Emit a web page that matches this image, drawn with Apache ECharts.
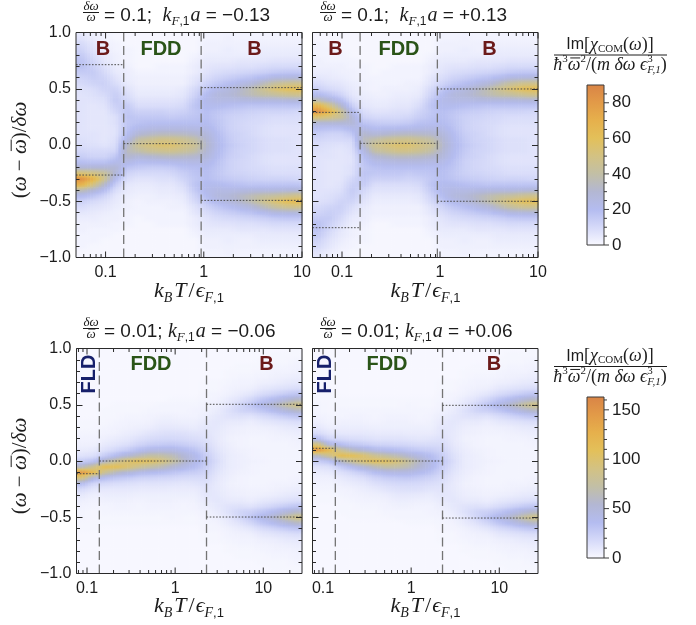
<!DOCTYPE html>
<html>
<head>
<meta charset="utf-8">
<script src="https://cdn.jsdelivr.net/npm/echarts@6.0.0/dist/echarts.min.js"></script>
<style>
html,body{margin:0;padding:0;background:#ffffff;}
#chart{width:696px;height:625px;}
</style>
</head>
<body>
<div id="chart"></div>
<script>
// ---------------- DATA ----------------
// row centres of the heat-map cells, (omega - omegabar)/delta omega, top to bottom
const yCenters = [1,0.95,0.9,0.85,0.8,0.75,0.7,0.65,0.6,0.55,0.5,0.45,0.4,0.35,0.3,0.25,0.2,0.15,0.1,0.05,0,
  -0.05,-0.1,-0.15,-0.2,-0.25,-0.3,-0.35,-0.4,-0.45,-0.5,-0.55,-0.6,-0.65,-0.7,-0.75,-0.8,-0.85,-0.9,-0.95,-1];
// column edges in k_B T / eps_F,1
const topXEdges = [0.05,0.0652,0.0849,0.1107,0.1443,0.188,0.245,0.319,0.416,0.542,0.707,0.922,1.202,1.566,2.04,2.66,3.47,4.52,5.89,7.67,10];
const botXEdges = [0.076,0.102,0.137,0.184,0.247,0.331,0.445,0.597,0.802,1.077,1.445,1.94,2.61,3.5,4.7,6.31,8.45,11.35,15.24,20.5,27.5];

// Im[chi] values, one array per column (top row first). Top left: dw/w=0.1, k a=-0.13
const tlCols = [
[5,7,10,12,15,17,18,15,12,10,8,7,7,7,7,7,7,7,7,8,9,11,14,19,29,54,84,68,37,21,13,9,6,4,3,3,2,2,2,1,1],
[3,4,6,7,9,11,13,15,14,12,9,8,7,6,6,6,6,6,7,7,8,10,12,18,29,50,68,50,29,17,10,7,5,4,3,2,2,2,1,1,1],
[2,2,3,4,5,6,8,10,12,13,12,10,8,7,6,6,6,6,6,6,7,10,12,18,29,44,46,32,20,12,8,6,4,3,3,2,2,1,1,1,1],
[1,1,2,2,3,3,4,5,7,9,12,14,15,13,11,8,8,7,7,8,9,11,16,22,29,28,21,14,9,6,5,4,3,3,2,2,1,1,1,1,1],
[1,1,1,2,2,2,3,4,4,5,7,9,11,15,16,17,16,17,19,24,31,34,31,24,17,12,9,6,5,4,3,3,2,2,2,1,1,1,1,1,1],
[1,1,1,1,1,1,1,2,3,3,4,5,7,9,13,16,18,22,29,40,46,39,28,20,15,10,7,5,4,3,2,2,2,1,1,1,1,1,1,1,1],
[1,1,1,1,1,1,1,2,3,3,4,5,7,9,13,16,19,24,32,44,51,44,30,21,14,10,7,5,4,3,3,2,2,2,1,1,1,1,1,1,1],
[1,1,1,1,1,1,2,2,3,3,4,5,7,9,13,16,19,25,34,48,55,46,32,21,14,10,8,6,5,4,3,2,2,2,2,1,1,1,1,1,1],
[1,1,1,1,1,1,2,2,3,3,4,5,7,9,12,15,19,25,34,48,55,47,33,22,15,11,8,6,5,4,3,3,2,2,2,1,1,1,1,1,1],
[1,1,1,1,1,1,2,2,3,3,5,6,8,10,13,16,19,25,33,45,50,44,32,23,18,14,12,9,7,5,4,3,2,2,2,1,1,1,1,1,1],
[1,1,1,1,2,3,4,4,6,7,10,12,15,17,16,17,19,24,31,40,45,40,31,24,19,17,16,17,15,12,10,7,6,4,4,3,2,1,1,1,1],
[2,2,3,3,4,5,6,7,9,12,16,20,22,21,19,19,20,23,27,30,32,30,27,23,20,19,19,21,22,20,16,12,9,7,6,5,4,3,3,2,2],
[2,2,3,3,4,5,7,9,12,16,22,26,24,21,17,16,17,18,20,21,22,21,20,18,17,16,17,21,24,26,22,16,12,9,7,5,4,3,3,2,2],
[2,3,3,4,4,5,7,10,14,19,26,28,24,19,15,13,13,13,14,15,16,15,14,13,13,13,15,19,24,28,26,19,14,10,7,5,4,4,3,3,2],
[2,2,3,3,4,6,8,11,16,23,31,32,25,18,14,12,11,11,12,12,13,12,12,11,11,12,14,18,25,32,31,23,16,11,8,6,4,3,3,2,2],
[2,2,3,3,4,6,8,12,18,27,37,36,26,17,13,11,10,10,10,11,11,11,10,10,10,11,13,17,26,36,37,27,18,12,8,6,4,3,3,2,2],
[2,2,3,4,5,6,9,13,21,34,45,40,26,17,12,10,9,8,8,9,9,9,8,8,9,10,12,17,26,40,45,34,21,13,9,6,5,4,3,2,2],
[2,2,3,4,5,7,10,15,25,41,53,42,26,17,12,9,8,7,7,8,8,8,7,7,8,9,12,17,26,42,53,41,25,15,10,7,5,4,3,2,2],
[2,2,3,4,5,7,10,16,26,45,59,45,27,17,12,9,8,7,7,8,8,8,7,7,8,9,12,17,27,45,60,46,26,16,10,7,5,4,3,2,2],
[2,2,3,4,5,7,10,16,27,46,61,47,28,17,11,9,8,7,7,7,7,7,7,7,8,9,11,17,28,48,63,47,27,16,10,7,5,4,3,2,2]
];
// Top right: dw/w=0.1, k a=+0.13
const trCols = [
[1,1,2,2,2,3,3,4,6,9,13,21,37,68,84,54,29,19,14,11,9,8,7,7,7,7,7,7,7,7,8,10,12,15,18,17,15,12,10,7,5],
[1,1,1,2,2,2,3,4,5,7,10,17,29,50,68,50,29,18,12,10,8,7,7,6,6,6,6,6,7,8,9,12,14,15,13,11,9,7,6,4,3],
[1,1,1,1,2,2,3,3,4,6,8,12,20,32,46,44,29,18,12,10,7,6,6,6,6,6,6,7,8,10,12,13,12,10,8,6,5,4,3,2,2],
[1,1,1,1,1,2,2,3,3,4,5,6,9,14,21,28,29,22,16,11,9,8,7,7,8,8,11,13,15,14,12,9,7,5,4,3,3,2,2,1,1],
[1,1,1,1,1,1,2,2,2,3,3,4,5,6,9,12,17,24,31,34,31,24,19,17,16,17,16,15,11,9,7,5,4,4,3,2,2,2,1,1,1],
[1,1,1,1,1,1,1,1,2,2,2,3,4,5,7,10,15,20,28,39,46,40,29,22,18,16,13,9,7,5,4,3,3,2,1,1,1,1,1,1,1],
[1,1,1,1,1,1,1,2,2,2,3,3,4,5,7,10,14,21,30,44,51,44,32,24,19,16,13,9,7,5,4,3,3,2,1,1,1,1,1,1,1],
[1,1,1,1,1,1,2,2,2,2,3,4,5,6,8,10,14,21,32,46,55,48,34,25,19,16,13,9,7,5,4,3,3,2,2,1,1,1,1,1,1],
[1,1,1,1,1,1,2,2,2,3,3,4,5,6,8,11,15,22,33,47,55,48,34,25,19,15,12,9,7,5,4,3,3,2,2,1,1,1,1,1,1],
[1,1,1,1,1,1,2,2,2,3,4,5,7,9,12,14,18,23,32,44,50,45,33,25,19,16,13,10,8,6,5,3,3,2,2,1,1,1,1,1,1],
[1,1,1,1,2,3,4,4,6,7,10,12,15,17,16,17,19,24,31,40,45,40,31,24,19,17,16,17,15,12,10,7,6,4,4,3,2,1,1,1,1],
[2,2,3,3,4,5,6,7,9,12,16,20,22,21,19,19,20,23,27,30,32,30,27,23,20,19,19,21,22,20,16,12,9,7,6,5,4,3,3,2,2],
[2,2,3,3,4,5,7,9,12,16,22,26,24,21,17,16,17,18,20,21,22,21,20,18,17,16,17,21,24,26,22,16,12,9,7,5,4,3,3,2,2],
[2,3,3,4,4,5,7,10,14,19,26,28,24,19,15,13,13,13,14,15,16,15,14,13,13,13,15,19,24,28,26,19,14,10,7,5,4,4,3,3,2],
[2,2,3,3,4,6,8,11,16,23,31,32,25,18,14,12,11,11,12,12,13,12,12,11,11,12,14,18,25,32,31,23,16,11,8,6,4,3,3,2,2],
[2,2,3,3,4,6,8,12,18,27,37,36,26,17,13,11,10,10,10,11,11,11,10,10,10,11,13,17,26,36,37,27,18,12,8,6,4,3,3,2,2],
[2,2,3,4,5,6,9,13,21,34,45,40,26,17,12,10,9,8,8,9,9,9,8,8,9,10,12,17,26,40,45,34,21,13,9,6,5,4,3,2,2],
[2,2,3,4,5,7,10,15,25,41,53,42,26,17,12,9,8,7,7,8,8,8,7,7,8,9,12,17,26,42,53,41,25,15,10,7,5,4,3,2,2],
[2,2,3,4,5,7,10,16,26,46,60,45,27,17,12,9,8,7,7,8,8,8,7,7,8,9,12,17,27,45,59,45,26,16,10,7,5,4,3,2,2],
[2,2,3,4,5,7,10,16,27,47,63,48,28,17,11,9,8,7,7,7,7,7,7,7,8,9,11,17,28,47,61,46,27,16,10,7,5,4,3,2,2]
];
// Bottom left: dw/w=0.01, k a=-0.06
const blCols = [
[1,1,1,1,1,1,1,1,1,1,1,1,1,2,2,3,4,5,8,13,26,61,144,91,35,17,10,6,4,3,3,2,2,1,1,1,1,1,1,1,1],
[1,1,1,1,1,1,1,1,1,1,1,1,1,2,2,3,4,5,9,15,32,84,115,46,20,11,6,4,3,2,2,2,2,1,1,1,1,1,1,1,1],
[1,1,1,1,1,1,1,1,1,1,1,2,2,2,3,4,6,9,14,26,58,112,80,35,18,10,7,5,3,3,2,2,1,1,1,1,1,1,1,1,1],
[1,1,1,1,1,1,1,1,1,1,2,2,2,3,4,5,8,12,20,38,81,109,61,29,16,10,7,5,4,3,2,2,1,1,1,1,1,1,1,1,1],
[1,1,1,1,1,1,1,1,1,1,2,2,3,4,5,7,10,15,26,51,98,98,51,26,15,10,7,5,4,3,2,2,1,1,1,1,1,1,1,1,1],
[1,1,1,1,1,1,1,1,1,1,2,2,3,4,6,9,14,21,35,63,108,83,42,22,13,9,6,4,3,3,2,2,1,1,1,1,1,1,1,1,1],
[1,1,1,1,1,1,1,1,1,1,2,3,4,5,7,12,17,25,42,73,105,73,38,21,13,9,6,5,4,3,2,2,1,1,1,1,1,1,1,1,1],
[1,1,1,1,1,1,1,1,1,1,3,3,5,7,10,14,19,27,44,72,95,65,35,20,13,9,6,5,4,3,2,2,1,1,1,1,1,1,1,1,1],
[1,1,1,1,1,1,1,1,1,2,3,3,5,7,10,15,19,28,44,65,77,54,31,19,12,8,6,5,4,3,3,2,1,1,1,1,1,1,1,1,1],
[1,1,1,1,1,1,1,1,1,2,3,3,4,6,9,14,18,25,38,52,59,44,27,17,11,8,6,4,3,3,2,2,1,1,1,1,1,1,1,1,1],
[1,1,1,1,1,1,1,1,1,2,3,4,4,6,8,12,16,22,31,40,42,35,25,17,12,8,6,5,4,3,2,2,1,1,1,1,1,1,1,1,1],
[1,1,1,1,1,1,2,2,3,3,4,5,7,9,11,12,14,17,21,25,28,25,21,17,14,12,11,9,7,5,4,3,3,2,2,1,1,1,1,1,1],
[1,1,1,1,1,1,2,2,3,4,6,8,10,11,10,9,9,10,12,14,16,14,12,10,9,9,10,11,10,8,6,4,3,2,2,1,1,1,1,1,1],
[1,1,1,1,2,2,3,4,5,8,11,14,13,9,7,6,5,6,7,8,8,8,7,6,5,6,7,9,13,14,11,8,5,4,3,2,2,1,1,1,1],
[1,1,1,2,2,3,4,5,8,13,20,21,14,9,6,5,4,4,5,6,6,6,5,4,4,5,6,9,14,21,20,13,8,5,4,3,2,2,1,1,1],
[1,1,1,2,2,3,4,6,11,20,30,24,13,7,5,4,3,3,4,4,5,4,4,3,3,4,5,7,13,24,30,20,11,6,4,3,2,2,1,1,1],
[1,1,2,2,3,4,6,10,17,30,42,30,17,10,6,4,3,3,3,3,4,3,3,3,3,4,6,10,17,30,42,30,17,10,6,4,3,2,2,1,1],
[1,2,2,3,4,5,7,12,21,38,55,38,21,12,7,5,4,3,3,3,3,3,3,3,4,5,7,12,21,38,55,38,21,12,7,5,4,3,2,2,1],
[1,2,2,3,4,6,9,14,26,48,72,48,26,14,9,6,4,3,3,3,3,3,3,3,4,6,9,14,26,48,72,48,26,14,9,6,4,3,2,2,1],
[2,2,3,4,5,7,10,16,30,58,88,58,30,16,10,7,5,4,3,3,3,3,3,4,5,7,10,16,30,58,88,58,30,16,10,7,5,4,3,2,2]
];
// Bottom right: dw/w=0.01, k a=+0.06
const brCols = [
[1,1,1,1,1,1,1,1,2,2,3,3,4,6,10,17,35,91,144,61,26,13,8,5,4,3,2,2,1,1,1,1,1,1,1,1,1,1,1,1,1],
[1,1,1,1,1,1,1,1,2,2,2,2,3,4,6,11,20,46,115,84,32,15,9,5,4,3,2,2,1,1,1,1,1,1,1,1,1,1,1,1,1],
[1,1,1,1,1,1,1,1,1,2,2,3,3,5,7,10,18,35,80,112,58,26,14,9,6,4,3,2,2,2,1,1,1,1,1,1,1,1,1,1,1],
[1,1,1,1,1,1,1,1,1,2,2,3,4,5,7,10,16,29,61,109,81,38,20,12,8,5,4,3,2,2,2,1,1,1,1,1,1,1,1,1,1],
[1,1,1,1,1,1,1,1,1,2,2,3,4,5,7,10,15,26,51,98,98,51,26,15,10,7,5,4,3,2,2,1,1,1,1,1,1,1,1,1,1],
[1,1,1,1,1,1,1,1,1,2,2,3,3,4,6,9,13,22,42,83,108,63,35,21,14,9,6,4,3,2,2,1,1,1,1,1,1,1,1,1,1],
[1,1,1,1,1,1,1,1,1,2,2,3,4,5,6,9,13,21,38,73,105,73,42,25,17,12,7,5,4,3,2,1,1,1,1,1,1,1,1,1,1],
[1,1,1,1,1,1,1,1,1,2,2,3,4,5,6,9,13,20,35,65,95,72,44,27,19,14,10,7,5,3,3,1,1,1,1,1,1,1,1,1,1],
[1,1,1,1,1,1,1,1,1,2,3,3,4,5,6,8,12,19,31,54,77,65,44,28,19,15,10,7,5,3,3,2,1,1,1,1,1,1,1,1,1],
[1,1,1,1,1,1,1,1,1,2,2,3,3,4,6,8,11,17,27,44,59,52,38,25,18,14,9,6,4,3,3,2,1,1,1,1,1,1,1,1,1],
[1,1,1,1,1,1,1,1,1,2,2,3,4,5,6,8,12,17,25,35,42,40,31,22,16,12,8,6,4,4,3,2,1,1,1,1,1,1,1,1,1],
[1,1,1,1,1,1,2,2,3,3,4,5,7,9,11,12,14,17,21,25,28,25,21,17,14,12,11,9,7,5,4,3,3,2,2,1,1,1,1,1,1],
[1,1,1,1,1,1,2,2,3,4,6,8,10,11,10,9,9,10,12,14,16,14,12,10,9,9,10,11,10,8,6,4,3,2,2,1,1,1,1,1,1],
[1,1,1,1,2,2,3,4,5,8,11,14,13,9,7,6,5,6,7,8,8,8,7,6,5,6,7,9,13,14,11,8,5,4,3,2,2,1,1,1,1],
[1,1,1,2,2,3,4,5,8,13,20,21,14,9,6,5,4,4,5,6,6,6,5,4,4,5,6,9,14,21,20,13,8,5,4,3,2,2,1,1,1],
[1,1,1,2,2,3,4,6,11,20,30,24,13,7,5,4,3,3,4,4,5,4,4,3,3,4,5,7,13,24,30,20,11,6,4,3,2,2,1,1,1],
[1,1,2,2,3,4,6,10,17,30,42,30,17,10,6,4,3,3,3,3,4,3,3,3,3,4,6,10,17,30,42,30,17,10,6,4,3,2,2,1,1],
[1,2,2,3,4,5,7,12,21,38,55,38,21,12,7,5,4,3,3,3,3,3,3,3,4,5,7,12,21,38,55,38,21,12,7,5,4,3,2,2,1],
[1,2,2,3,4,6,9,14,26,48,72,48,26,14,9,6,4,3,3,3,3,3,3,3,4,6,9,14,26,48,72,48,26,14,9,6,4,3,2,2,1],
[2,2,3,4,5,7,10,16,30,58,88,58,30,16,10,7,5,4,3,3,3,3,3,4,5,7,10,16,30,58,88,58,30,16,10,7,5,4,3,2,2]
];

// tick positions
const xMajorTicks = [0.1, 1, 10];
const topMinorTicks = [0.06,0.07,0.08,0.09,0.2,0.3,0.4,0.5,0.6,0.7,0.8,0.9,2,3,4,5,6,7,8,9];
const botMinorTicks = [0.08,0.09,0.2,0.3,0.4,0.5,0.6,0.7,0.8,0.9,2,3,4,5,6,7,8,9,20];
const cbTopMajor = [0,20,40,60,80];
const cbTopMinor = [5,10,15,25,30,35,45,50,55,65,70,75,85];
const cbBotMajor = [0,50,100,150];
const cbBotMinor = [10,20,30,40,60,70,80,90,110,120,130,140,160];

// regime boundaries (dashed) and reference levels (dotted): [xFrom, xTo, y]
const topBounds = [0.153, 0.94];
const botBounds = [0.138, 2.27];
const tlSegs = [[0.05,0.153,0.714],[0.05,0.153,-0.267],[0.153,0.94,0.012],[0.94,10,0.51],[0.94,10,-0.492]];
const trSegs = [[0.05,0.153,0.29],[0.05,0.153,-0.735],[0.153,0.94,0.015],[0.94,10,0.498],[0.94,10,-0.5]];
const blSegs = [[0.076,0.138,-0.113],[0.138,2.27,0],[2.27,27.5,0.504],[2.27,27.5,-0.498]];
const brSegs = [[0.076,0.138,0.113],[0.138,2.27,0],[2.27,27.5,0.495],[2.27,27.5,-0.507]];

// colour scale (evenly spaced from 0 to max)
const cmap = ['#f9f9ff','#d6daf9','#b4bcf0','#b3b7d3','#c2bfa6','#d3c283','#e3c05a','#e6b04c','#e29a48','#d98446'];
const topMax = 90, botMax = 163;

// ---------------- BUILD ----------------
const SANS = '"Liberation Sans", Arial, sans-serif';
const SERIF = '"Liberation Serif", "DejaVu Serif", serif';
const INK = '#1c1c1c';

const cmapRGB = cmap.map(h => [parseInt(h.slice(1,3),16), parseInt(h.slice(3,5),16), parseInt(h.slice(5,7),16)]);
function colorOf(v, max) {
  const t = Math.max(0, Math.min(1, v / max)) * (cmap.length - 1);
  const k = Math.min(cmap.length - 2, Math.floor(t)), f = t - k;
  const c = cmapRGB[k].map((c0, m) => Math.round(c0 + (cmapRGB[k + 1][m] - c0) * f));
  return 'rgb(' + c[0] + ',' + c[1] + ',' + c[2] + ')';
}
// smooth shading inside a cell: bilinear blend between neighbouring cell values (display only)
function sampleGrid(cols, xi, yi) {
  const nx = cols.length, ny = cols[0].length;
  xi = Math.max(0, Math.min(nx - 1, xi)); yi = Math.max(0, Math.min(ny - 1, yi));
  const x0 = Math.floor(xi), y0 = Math.floor(yi);
  const x1 = Math.min(nx - 1, x0 + 1), y1 = Math.min(ny - 1, y0 + 1);
  const fx = xi - x0, fy = yi - y0;
  const a = cols[x0][y0] * (1 - fx) + cols[x1][y0] * fx;
  const b = cols[x0][y1] * (1 - fx) + cols[x1][y1] * fx;
  return a * (1 - fy) + b * fy;
}

const panels = [
  {grid:{left:76, top:32.5, width:226, height:225}, xmin:0.05, xmax:10, edges:topXEdges, cols:tlCols, max:topMax, bounds:topBounds, segs:tlSegs, minor:topMinorTicks, showMax:true, labels:true},
  {grid:{left:312.5, top:32.5, width:225.5, height:225}, xmin:0.05, xmax:10, edges:topXEdges, cols:trCols, max:topMax, bounds:topBounds, segs:trSegs, minor:topMinorTicks, showMax:true, labels:false},
  {grid:{left:76.5, top:348.5, width:225.5, height:225}, xmin:0.076, xmax:27.5, edges:botXEdges, cols:blCols, max:botMax, bounds:botBounds, segs:blSegs, minor:botMinorTicks, showMax:false, labels:true},
  {grid:{left:312.5, top:348.5, width:225.5, height:225}, xmin:0.076, xmax:27.5, edges:botXEdges, cols:brCols, max:botMax, bounds:botBounds, segs:brSegs, minor:botMinorTicks, showMax:false, labels:false}
];

function heatData(cols, edges) {
  const d = [];
  cols.forEach((col, i) => col.forEach((v, j) => d.push([edges[i], edges[i + 1], yCenters[j], v, i, j])));
  return d;
}
function makeHeatItem(p) {
  const NS = 4;
  return function (params, api) {
    const x0 = api.value(0), x1 = api.value(1), y = api.value(2), i = api.value(4);
    const vt = Math.min(1, y + 0.025), vb = Math.max(-1, y - 0.025);
    const a = api.coord([x0, vt]), b = api.coord([x1, vb]);
    const W = b[0] - a[0], H = b[1] - a[1];
    const ys = [(1 - vt) / 0.05, (1 - (vt + vb) / 2) / 0.05, (1 - vb) / 0.05];
    const kids = [];
    for (let s = 0; s < NS; s++) {
      const xi = i + (s + 0.5) / NS - 0.5;
      const stops = ys.map((yy, k) => ({offset:k / 2, color:colorOf(sampleGrid(p.cols, xi, yy), p.max)}));
      kids.push({type:'rect', shape:{x:a[0] + W * s / NS, y:a[1], width:W / NS + 0.6, height:H + 0.6},
        style:{fill:{type:'linear', x:0, y:0, x2:0, y2:1, colorStops:stops}}});
    }
    return {type:'group', children:kids};
  };
}
function lineItem(params, api) {
  const a = api.coord([api.value(0), api.value(2)]);
  const b = api.coord([api.value(1), api.value(3)]);
  const dashed = api.value(4) === 0;
  return {type:'line', shape:{x1:a[0], y1:a[1], x2:b[0], y2:b[1]},
    style: dashed ? {stroke:'#747474', lineWidth:1.3, lineDash:[9,4.5]} : {stroke:'#4d4d4d', lineWidth:1, lineDash:[1.6,1.6]}};
}
function tickItem(params, api) {
  const kind = api.value(2);
  const cs = params.coordSys;
  if (kind === 2) {
    return {type:'rect', shape:{x:cs.x, y:cs.y, width:cs.width, height:cs.height}, style:{fill:'none', stroke:'#2a2a2a', lineWidth:1}};
  }
  const x = api.coord([api.value(0), 0])[0];
  const L = kind === 1 ? 6 : 3.5;
  return {type:'group', children:[
    {type:'line', shape:{x1:x, y1:cs.y + cs.height, x2:x, y2:cs.y + cs.height - L}, style:{stroke:'#2a2a2a', lineWidth:1}},
    {type:'line', shape:{x1:x, y1:cs.y, x2:x, y2:cs.y + L}, style:{stroke:'#2a2a2a', lineWidth:1}}
  ]};
}
function cbItem(params, api) {
  const kind = api.value(2);
  const cs = params.coordSys;
  if (kind === -1) {
    const stops = cmap.map((c, i) => ({offset:1 - i / (cmap.length - 1), color:c})).reverse();
    return {type:'rect', shape:{x:cs.x, y:cs.y, width:cs.width, height:cs.height},
      style:{fill:{type:'linear', x:0, y:0, x2:0, y2:1, colorStops:stops}, stroke:'#3a3a3a', lineWidth:1}};
  }
  const p = api.coord([1, api.value(1)]);
  const L = kind === 1 ? 5 : 3;
  return {type:'line', shape:{x1:p[0], y1:p[1], x2:p[0] + L, y2:p[1]}, style:{stroke:'#3a3a3a', lineWidth:1}};
}

const grids = panels.map(p => Object.assign({outerBoundsMode:'none', containLabel:false}, p.grid))
  .concat([{left:587, top:85, width:17, height:160, outerBoundsMode:'none'},
           {left:587, top:397, width:17, height:161, outerBoundsMode:'none'}]);

const xAxes = panels.map((p, i) => ({
  gridIndex:i, type:'log', logBase:10, min:p.xmin, max:p.xmax,
  axisLine:{show:false}, axisTick:{show:false}, minorTick:{show:false}, splitLine:{show:false}, minorSplitLine:{show:false},
  axisLabel:{show:true, fontFamily:SANS, fontSize:16, color:INK, margin:7, showMinLabel:false, showMaxLabel:p.showMax,
    formatter: v => String(+Number(v).toPrecision(4))}
})).concat([
  {gridIndex:4, type:'value', min:0, max:1, show:false},
  {gridIndex:5, type:'value', min:0, max:1, show:false}
]);

function yAx(i, pos, labels) {
  return {gridIndex:i, type:'value', min:-1, max:1, interval:0.5, position:pos, z:10,
    axisLine:{show:false}, splitLine:{show:false}, minorSplitLine:{show:false},
    axisTick:{show:true, inside:true, length:6, lineStyle:{color:'#2a2a2a', width:1}},
    minorTick:{show:true, splitNumber:5, length:3.5, lineStyle:{color:'#2a2a2a', width:1}},
    axisLabel:{show:labels, fontFamily:SANS, fontSize:16, color:INK, margin:5,
      formatter: v => (v < 0 ? '\u2212' : '') + Math.abs(v).toFixed(1)}};
}
function cbAx(i, max, interval) {
  return {gridIndex:i, type:'value', min:0, max:max, interval:interval, position:'right',
    axisLine:{show:false}, axisTick:{show:false}, splitLine:{show:false},
    axisLabel:{fontFamily:SANS, fontSize:17, color:INK, margin:8, showMaxLabel:false}};
}
const yAxes = [];
panels.forEach((p, i) => { yAxes.push(yAx(i, 'left', p.labels)); yAxes.push(yAx(i, 'right', false)); });
yAxes.push(cbAx(4, topMax, 20));
yAxes.push(cbAx(5, botMax, 50));

const series = [];
panels.forEach((p, i) => {
  series.push({type:'custom', xAxisIndex:i, yAxisIndex:2 * i, z:2, silent:true, animation:false,
    dimensions:['x0','x1','y','v','i','j'], encode:{x:[0,1], y:2}, data:heatData(p.cols, p.edges), renderItem:makeHeatItem(p)});
  const ld = p.bounds.map(b => [b, b, -1, 1, 0]).concat(p.segs.map(s => [s[0], s[1], s[2], s[2], 1]));
  series.push({type:'custom', xAxisIndex:i, yAxisIndex:2 * i, z:3, silent:true, animation:false,
    encode:{x:[0,1], y:[2,3]}, data:ld, renderItem:lineItem});
  const td = xMajorTicks.map(v => [v, 0, 1]).concat(p.minor.map(v => [v, 0, 0])).concat([[p.xmin, 0, 2]]);
  series.push({type:'custom', xAxisIndex:i, yAxisIndex:2 * i, z:4, silent:true, animation:false,
    encode:{x:0, y:1}, data:td, renderItem:tickItem});
});
series.push({type:'custom', xAxisIndex:4, yAxisIndex:8, z:4, silent:true, animation:false, encode:{x:0, y:1},
  data:[[0,0,-1]].concat(cbTopMajor.map(v => [1, v, 1])).concat(cbTopMinor.map(v => [1, v, 0])), renderItem:cbItem});
series.push({type:'custom', xAxisIndex:5, yAxisIndex:9, z:4, silent:true, animation:false, encode:{x:0, y:1},
  data:[[0,0,-1]].concat(cbBotMajor.map(v => [1, v, 1])).concat(cbBotMinor.map(v => [1, v, 0])), renderItem:cbItem});

// ---------------- TEXT (math-style labels) ----------------
const mctx = document.createElement('canvas').getContext('2d');
function fontStr(f) { return (f.style || 'normal') + ' ' + (f.weight || 'normal') + ' ' + f.size + 'px ' + f.family; }
const K = {
  n:{size:19, family:SANS},
  i:{style:'italic', size:20, family:SERIF},
  p:{size:20, family:SERIF},
  s:{style:'italic', size:13, family:SERIF, dy:6},
  t:{size:12, family:SANS, dy:6},
  yi:{style:'italic', size:21, family:SERIF},
  yp:{size:21, family:SERIF},
  xi:{style:'italic', size:22, family:SERIF},
  xp:{size:22, family:SERIF},
  xs:{style:'italic', size:14, family:SERIF, dy:7},
  xt:{size:13, family:SANS, dy:7},
  fi:{style:'italic', size:13, family:SERIF},
  ca:{size:16, family:SANS},
  ci:{style:'italic', size:18, family:SERIF},
  cp:{size:18, family:SERIF},
  cc:{size:11, family:SERIF, dy:4},
  cu:{size:11, family:SERIF, dy:-6},
  cd:{style:'italic', size:11, family:SERIF, dy:5}
};
// pieces: [text, kind, overbar, stay(no advance), extraGap]
function mathGroup(pieces, opt) {
  let x = 0; const kids = [];
  pieces.forEach(pc => {
    const f = K[pc[1]]; const font = fontStr(f); const dy = f.dy || 0;
    mctx.font = font; const w = mctx.measureText(pc[0]).width;
    kids.push({type:'text', x:x, y:dy, z:100, silent:true, style:{text:pc[0], font:font, fill:INK, align:'left', verticalAlign:'middle'}});
    if (pc[2]) {
      const yb = dy - f.size * 0.42;
      kids.push({type:'line', z:100, silent:true, shape:{x1:x + w * 0.2, y1:yb, x2:x + w * 0.98, y2:yb}, style:{stroke:INK, lineWidth:1}});
    }
    if (!pc[3]) x += w + (pc[4] || 0);
  });
  const off = opt.align === 'left' ? 0 : -x / 2;
  kids.forEach(k => { if (k.type === 'text') k.x += off; else { k.shape.x1 += off; k.shape.x2 += off; } });
  return {type:'group', x:opt.x, y:opt.y, rotation:opt.rotation || 0, z:100, silent:true, children:kids};
}

const graphics = [];
function addText(x, y, text, style, extra) {
  graphics.push(Object.assign({type:'text', x:x, y:y, silent:true, z:100,
    style:Object.assign({text:text, fill:INK, align:'center', verticalAlign:'middle'}, style)}, extra || {}));
}
function addLine(x1, y1, x2, y2) {
  graphics.push({type:'line', silent:true, z:100, shape:{x1:x1, y1:y1, x2:x2, y2:y2}, style:{stroke:INK, lineWidth:1}});
}

// panel titles
const titles = [
  {fx:91, ny:7, ly:12.5, dy:18, tx:104, ty:15.5, v:'0.1;  ', ka:'\u22120.13'},
  {fx:328, ny:7, ly:12.5, dy:18, tx:341, ty:15.5, v:'0.1;  ', ka:'+0.13'},
  {fx:91, ny:323, ly:328.5, dy:334.5, tx:104, ty:331.5, v:'0.01; ', ka:'\u22120.06'},
  {fx:328, ny:323, ly:328.5, dy:334.5, tx:341, ty:331.5, v:'0.01; ', ka:'+0.06'}
];
titles.forEach(t => {
  graphics.push(mathGroup([['\u03b4\u03c9', 'fi']], {x:t.fx, y:t.ny}));
  addLine(t.fx - 8, t.ly, t.fx + 8, t.ly);
  graphics.push(mathGroup([['\u03c9', 'fi', true]], {x:t.fx, y:t.dy}));
  graphics.push(mathGroup([['= ' + t.v, 'n'], ['k', 'i'], ['F', 's'], [',1', 't', false, false, 1], ['a', 'i'], [' = ' + t.ka, 'n']],
    {x:t.tx, y:t.ty, align:'left'}));
});
// axis names
const yNamePieces = [['(', 'yp'], ['\u03c9', 'yi'], [' \u2212 ', 'yp'], ['\u03c9', 'yi', true], [')', 'yp'], ['/', 'yp'], ['\u03b4\u03c9', 'yi']];
graphics.push(mathGroup(yNamePieces, {x:20, y:150, rotation:Math.PI / 2}));
graphics.push(mathGroup(yNamePieces, {x:20, y:466, rotation:Math.PI / 2}));
const xNamePieces = [['k', 'xi'], ['B', 'xs', false, false, 2], ['T', 'xi', false, false, 2], ['/', 'xp', false, false, 1], ['\u03f5', 'xi'], ['F', 'xs'], [',1', 'xt']];
[[189, 291], [425.5, 291], [189, 606], [425.5, 606]].forEach(p => graphics.push(mathGroup(xNamePieces, {x:p[0], y:p[1]})));
// regime labels
const lab = (x, y, t, c, rot) => addText(x, y, t, {fontFamily:SANS, fontWeight:'bold', fontSize:20, fill:c}, rot ? {rotation:Math.PI / 2} : {});
const RED = '#6b1a1a', GREEN = '#2a5418', NAVY = '#17206b';
lab(103, 49, 'B', RED); lab(161, 49, 'FDD', GREEN); lab(254.5, 49, 'B', RED);
lab(335.5, 49, 'B', RED); lab(399, 49, 'FDD', GREEN); lab(489.5, 49, 'B', RED);
lab(89, 374, 'FLD', NAVY, true); lab(151, 364, 'FDD', GREEN); lab(266.5, 364, 'B', RED);
lab(325, 374, 'FLD', NAVY, true); lab(387, 364, 'FDD', GREEN); lab(494, 364, 'B', RED);
// colour-bar titles
const cbNum = [['Im', 'ca'], ['[', 'cp'], ['\u03c7', 'ci'], ['COM', 'cc'], ['(', 'cp'], ['\u03c9', 'ci'], [')]', 'cp']];
const cbDen = [['\u0127', 'ci'], ['3', 'cu'], ['\u03c9', 'ci', true], ['2', 'cu'], ['/(', 'cp'], ['m', 'ci'], [' \u03b4\u03c9 ', 'ci'], ['\u03f5', 'ci'],
  ['3', 'cu', false, true], ['F,1', 'cd'], [')', 'cp']];
[[45, 55, 65.5], [356.5, 366.5, 377]].forEach(r => {
  graphics.push(mathGroup(cbNum, {x:610, y:r[0]}));
  addLine(554, r[1], 667, r[1]);
  graphics.push(mathGroup(cbDen, {x:610, y:r[2]}));
});

const option = {
  animation:false,
  backgroundColor:'#ffffff',
  textStyle:{fontFamily:SANS},
  grid:grids,
  xAxis:xAxes,
  yAxis:yAxes,
  series:series,
  graphic:graphics
};
const chart = echarts.init(document.getElementById('chart'), null, {renderer:'canvas'});
chart.setOption(option);
</script>
</body>
</html>
